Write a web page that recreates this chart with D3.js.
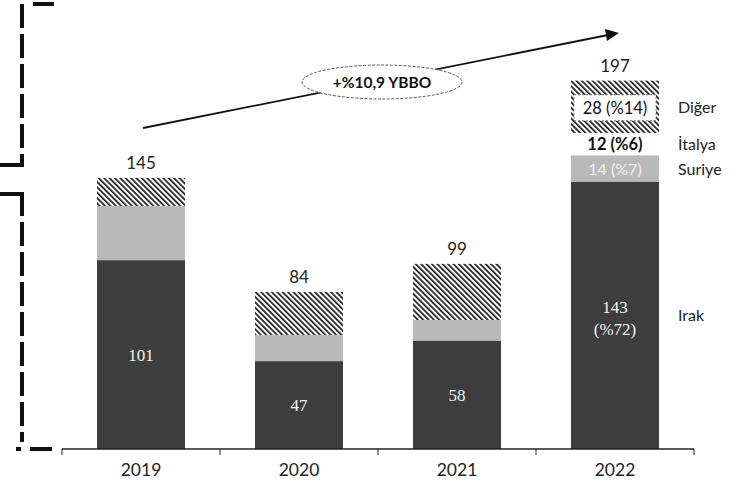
<!DOCTYPE html>
<html><head><meta charset="utf-8">
<script src="https://cdn.jsdelivr.net/npm/d3@7"></script>
<style>body{margin:0;background:#fff}svg{display:block}</style>
</head><body>
<svg id="c" width="742" height="497"></svg>
<script>
const years = ["2019","2020","2021","2022"];
const irak = [101,47,58,143];
const suriye = [29,14,11,14];
const italya = [0,0,0,12];
const diger = [15,23,30,28];
const totals = [145,84,99,197];
const seriesNames = ["Irak","Suriye","İtalya","Diğer"];
const lastLabels = ["143\n(%72)","14 (%7)","12 (%6)","28 (%14)"];
const growthLabel = "+%10,9 YBBO";

const svg = d3.select("#c");
const sans = "Lato, 'Open Sans', sans-serif";
const serif = "'Liberation Serif', serif";

const defs = svg.append("defs");
const pat = defs.append("pattern").attr("id","hatch").attr("patternUnits","userSpaceOnUse")
  .attr("width",3.8).attr("height",3.8).attr("patternTransform","rotate(-45)");
pat.append("rect").attr("width",3.8).attr("height",3.8).attr("fill","#fff");
pat.append("rect").attr("width",1.7).attr("height",3.8).attr("fill","#1a1a1a");

const x = d3.scaleBand().domain(years).range([62,694]).paddingInner(0.443).paddingOuter(0.2215);
const y = d3.scaleLinear().domain([0,200]).range([449,75]);

const table = years.map((yr,i)=>({year:yr, Irak:irak[i], Suriye:suriye[i], "İtalya":italya[i], "Diğer":diger[i]}));
const stack = d3.stack().keys(seriesNames)(table);
const fills = {"Irak":"#3d3d3d","Suriye":"#b9b9b9","İtalya":"none","Diğer":"url(#hatch)"};

stack.forEach(s=>{
  svg.append("g").selectAll("rect").data(s).join("rect")
    .attr("x",d=>x(d.data.year)).attr("width",x.bandwidth())
    .attr("y",d=>y(d[1])).attr("height",d=>y(d[0])-y(d[1]))
    .attr("fill",fills[s.key]);
});

// axis
const axis = svg.append("g").attr("transform","translate(0,449)");
axis.append("line").attr("x1",62).attr("x2",694).attr("stroke","#222").attr("stroke-width",1.3);
const tickPos = years.map(yr=>x(yr)-x.step()*x.paddingInner()/2).concat([694]);
axis.selectAll(".t").data(tickPos).join("line").attr("x1",d=>d).attr("x2",d=>d).attr("y1",0).attr("y2",6).attr("stroke","#222");
axis.selectAll("text").data(years).join("text").attr("x",d=>x(d)+x.bandwidth()/2).attr("y",27)
  .attr("text-anchor","middle").attr("font-family",sans).attr("font-size",17.5).attr("fill","#222").text(d=>d);

// totals
svg.selectAll(".tot").data(years).join("text").attr("x",d=>x(d)+x.bandwidth()/2)
  .attr("y",(d,i)=>y(totals[i])-9).attr("text-anchor","middle").attr("font-family",sans)
  .attr("font-size",17).attr("fill","#222").text((d,i)=>totals[i]);

// Irak labels in bars (first three)
years.slice(0,3).forEach((yr,i)=>{
  svg.append("text").attr("x",x(yr)+x.bandwidth()/2).attr("y",(y(0)+y(irak[i]))/2+6)
    .attr("text-anchor","middle").attr("font-family",serif).attr("font-size",17).attr("fill","#f4f4f4").text(irak[i]);
});
// 2022 labels
const xl = x("2022")+x.bandwidth()/2;
const ik = lastLabels[0].split("\n");
svg.append("text").attr("x",xl).attr("y",(y(0)+y(irak[3]))/2-2).attr("text-anchor","middle")
  .attr("font-family",serif).attr("font-size",17).attr("fill","#f4f4f4").text(ik[0]);
svg.append("text").attr("x",xl).attr("y",(y(0)+y(irak[3]))/2+20).attr("text-anchor","middle")
  .attr("font-family",serif).attr("font-size",17).attr("fill","#f4f4f4").text(ik[1]);
const s22 = stack[1][3], i22 = stack[2][3], d22 = stack[3][3];
svg.append("text").attr("x",xl).attr("y",(y(s22[0])+y(s22[1]))/2+6).attr("text-anchor","middle")
  .attr("font-family",sans).attr("font-size",16).attr("fill","#f0f0f0").text(lastLabels[1]);
svg.append("text").attr("x",xl).attr("y",(y(i22[0])+y(i22[1]))/2+6).attr("text-anchor","middle")
  .attr("font-family",sans).attr("font-size",16.5).attr("font-weight","bold").attr("fill","#111").text(lastLabels[2]);
const dm = (y(d22[0])+y(d22[1]))/2;
svg.append("rect").attr("x",x("2022")+3).attr("width",x.bandwidth()-6).attr("y",dm-12).attr("height",26)
  .attr("fill","#fff").attr("stroke","#777").attr("stroke-dasharray","2,2");
svg.append("text").attr("x",xl).attr("y",dm+7).attr("text-anchor","middle")
  .attr("font-family",sans).attr("font-size",16.5).attr("fill","#111").text(lastLabels[3]);

// legend labels on right
const lx = 678;
seriesNames.forEach((n,k)=>{
  const seg = stack[k][3];
  svg.append("text").attr("x",lx).attr("y",(y(seg[0])+y(seg[1]))/2+6)
    .attr("font-family",sans).attr("font-size",16).attr("fill","#222").text(n);
});

// growth arrow
svg.append("line").attr("x1",143).attr("y1",128).attr("x2",608).attr("y2",35)
  .attr("stroke","#111").attr("stroke-width",1.8);
svg.append("path").attr("d","M605,29L619,33L607,41z").attr("fill","#111");
svg.append("ellipse").attr("cx",382).attr("cy",82).attr("rx",80).attr("ry",17)
  .attr("fill","#fff").attr("stroke","#555").attr("stroke-dasharray","3,1.5");
svg.append("text").attr("x",382).attr("y",88).attr("text-anchor","middle").attr("font-family",sans)
  .attr("font-size",15.5).attr("font-weight","bold").attr("fill","#111").text(growthLabel);

// dashed brackets on the left (drawn as explicit dash segments)
const br = svg.append("g").attr("fill","#111");
function vDashes(x0, yStart, yEnd){
  for(let yy=yStart; yy<yEnd; yy+=30){
    br.append("rect").attr("x",x0-2).attr("y",yy).attr("width",4).attr("height",Math.min(24,yEnd-yy));
  }
}
vDashes(22, 4, 167);
br.append("rect").attr("x",33).attr("y",2).attr("width",21).attr("height",4);
br.append("rect").attr("x",0).attr("y",163).attr("width",24).attr("height",4);
br.append("rect").attr("x",0).attr("y",192).attr("width",24).attr("height",4);
vDashes(22, 192, 442);
br.append("rect").attr("x",30).attr("y",447).attr("width",22).attr("height",4);
br.append("rect").attr("x",16).attr("y",447).attr("width",5).attr("height",4);
</script>
</body></html>
